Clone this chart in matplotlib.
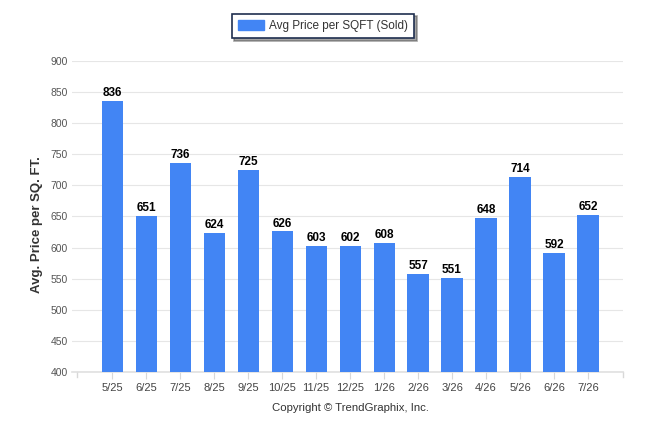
import matplotlib
matplotlib.use("Agg")
import matplotlib.pyplot as plt
from matplotlib.patches import Patch

categories = ["5/25", "6/25", "7/25", "8/25", "9/25", "10/25", "11/25", "12/25",
              "1/26", "2/26", "3/26", "4/26", "5/26", "6/26", "7/26"]
values = [836, 651, 736, 624, 725, 626, 603, 602, 608, 557, 551, 648, 714, 592, 652]
yticks = [400, 450, 500, 550, 600, 650, 700, 750, 800, 850, 900]

plt.rcParams['font.family'] = ['Liberation Sans', 'DejaVu Sans']

W, H = 646, 434
fig = plt.figure(figsize=(W / 100, H / 100), dpi=100)
left, right, top, bottom = 72, 623, 61, 372
ax = fig.add_axes([left / W, 1 - bottom / H, (right - left) / W, (bottom - top) / H])

bar_color = "#4285F4"
x = list(range(len(categories)))
ax.bar(x, values, width=0.62, color=bar_color, zorder=3)

for xi, v in zip(x, values):
    ax.text(xi, v + 3, str(v), ha="center", va="bottom", fontsize=8.5,
            fontweight="bold", color="#000000", zorder=4)

ax.set_ylim(400, 900)
ax.set_xlim(-1.18, 15.03)
ax.set_yticks(yticks)
ax.set_yticklabels([str(t) for t in yticks], fontsize=7.5, color="#555555")
ax.set_xticks(x)
ax.set_xticklabels(categories, fontsize=8, color="#444444")
ax.tick_params(axis="y", length=0, pad=3)
ax.tick_params(axis="x", length=5, color="#d8d8d8", pad=3)
ax.grid(axis="y", color="#e6e6e6", linewidth=0.8, zorder=0)
for s in ["top", "right", "left"]:
    ax.spines[s].set_visible(False)
ax.spines["bottom"].set_color("#e0e0e0")
ax.spines["bottom"].set_linewidth(1.2)

ax.set_ylabel("Avg. Price per SQ. FT.", fontsize=9.5, fontweight="bold",
              color="#333333")
ax.yaxis.set_label_coords((43 - left) / (right - left), (bottom - 225) / (bottom - top))

# extra edge tick marks
for xe in [-1.03, 15.03]:
    ax.plot([xe, xe], [0, -0.016], transform=ax.get_xaxis_transform(),
            color="#d8d8d8", linewidth=1, clip_on=False)

fig.text(350 / W, 1 - 408 / H, "Copyright \u00a9 TrendGraphix, Inc.",
         ha="center", va="center", fontsize=8.2, color="#333333")

handle = Patch(facecolor=bar_color, edgecolor=bar_color)
leg = fig.legend([handle], ["Avg Price per SQFT (Sold)"], loc="center",
                 bbox_to_anchor=(323 / W, 1 - 26 / H), fontsize=8.5,
                 frameon=True, fancybox=False, shadow=True,
                 handlelength=2.2, handleheight=0.9, borderpad=0.55,
                 handletextpad=0.4)
leg.get_frame().set_edgecolor("#1f2f4f")
leg.get_frame().set_linewidth(1.2)
for t in leg.get_texts():
    t.set_color("#333333")

fig.savefig("out.png", dpi=100)
